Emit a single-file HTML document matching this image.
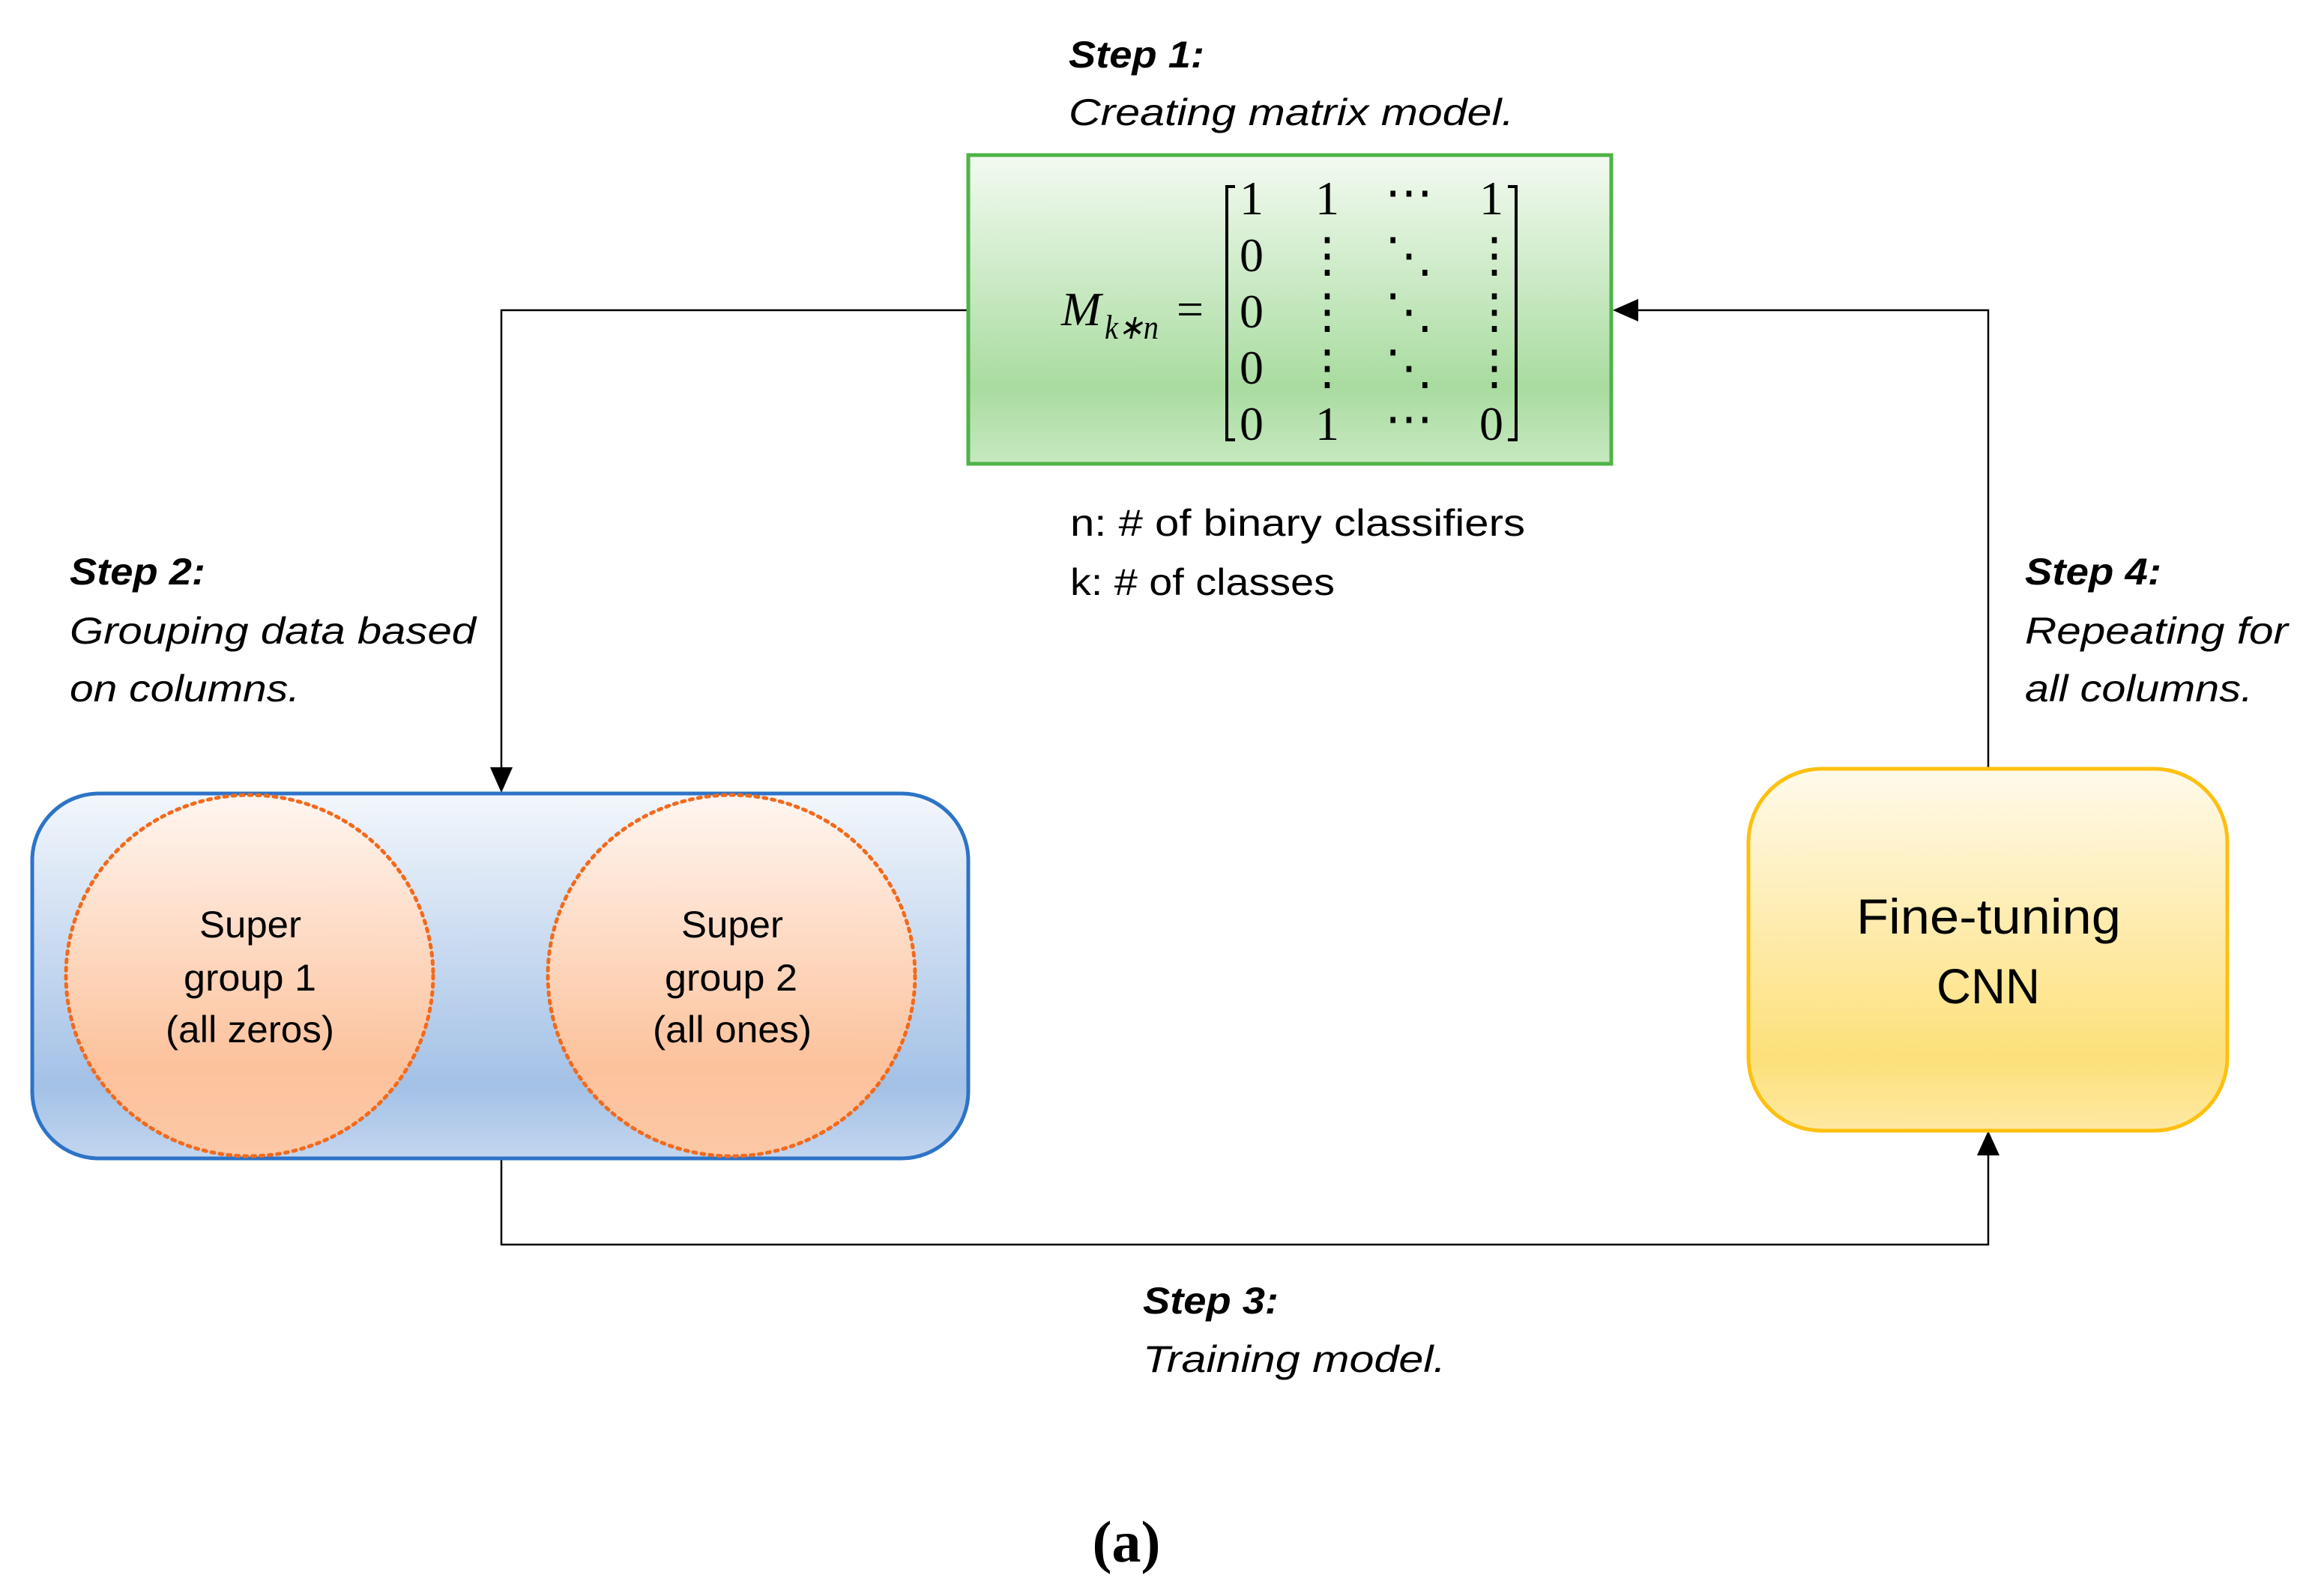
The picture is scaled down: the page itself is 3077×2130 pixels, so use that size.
<!DOCTYPE html>
<html><head><meta charset="utf-8"><style>html,body{margin:0;padding:0;background:#fff}svg{display:block}</style></head>
<body>
<svg width="3077" height="2130" viewBox="0 0 3077 2130" xmlns="http://www.w3.org/2000/svg" font-family="'Liberation Sans', sans-serif">
<defs>
<linearGradient id="g" x1="0" y1="0" x2="0" y2="1">
<stop offset="0" stop-color="#f3faf1"/><stop offset="0.75" stop-color="#a9dca0"/><stop offset="1" stop-color="#c7e8c0"/></linearGradient>
<linearGradient id="b" x1="0" y1="0" x2="0" y2="1">
<stop offset="0" stop-color="#f3f7fc"/><stop offset="0.8" stop-color="#a3c1e6"/><stop offset="1" stop-color="#c3d6ef"/></linearGradient>
<linearGradient id="o" x1="0" y1="0" x2="0" y2="1">
<stop offset="0" stop-color="#fff6f1"/><stop offset="0.75" stop-color="#fcc29c"/><stop offset="1" stop-color="#fcc8a6"/></linearGradient>
<linearGradient id="y" x1="0" y1="0" x2="0" y2="1">
<stop offset="0" stop-color="#fffaeb"/><stop offset="0.8" stop-color="#fde07a"/><stop offset="1" stop-color="#fee9a4"/></linearGradient>
</defs>
<g stroke="#000" stroke-width="2.5" fill="none">
<polyline points="1292,414 669,414 669,1030"/>
<polyline points="669,1546 669,1661 2653,1661 2653,1535"/>
<polyline points="2653,1026 2653,414 2178,414"/>
</g>
<polygon points="654,1024 684,1024 669,1058" fill="#000"/>
<polygon points="2638,1542 2668,1542 2653,1509" fill="#000"/>
<polygon points="2152,414 2186,399 2186,429" fill="#000"/>
<rect x="1292" y="207" width="858" height="412" fill="url(#g)" stroke="#4db445" stroke-width="5"/>
<rect x="43" y="1059" width="1249" height="487" rx="89" fill="url(#b)" stroke="#2d73c8" stroke-width="5"/>
<ellipse cx="333" cy="1302" rx="245" ry="241" fill="url(#o)" stroke="#f26a1c" stroke-width="5" stroke-dasharray="4 7" stroke-linecap="round"/>
<ellipse cx="976" cy="1302" rx="245" ry="241" fill="url(#o)" stroke="#f26a1c" stroke-width="5" stroke-dasharray="4 7" stroke-linecap="round"/>
<rect x="2333" y="1026" width="639" height="483" rx="98" fill="url(#y)" stroke="#fdc00f" stroke-width="5"/>
<g font-size="50" fill="#000">
<text x="1426" y="90" font-weight="bold" font-style="italic" textLength="181" lengthAdjust="spacingAndGlyphs">Step 1:</text>
<text x="1426" y="167" font-style="italic" textLength="594" lengthAdjust="spacingAndGlyphs">Creating matrix model.</text>
<text x="93" y="780" font-weight="bold" font-style="italic" textLength="181" lengthAdjust="spacingAndGlyphs">Step 2:</text>
<text x="93" y="859" font-style="italic" textLength="542" lengthAdjust="spacingAndGlyphs">Grouping data based</text>
<text x="93" y="936" font-style="italic" textLength="307" lengthAdjust="spacingAndGlyphs">on columns.</text>
<text x="2702" y="780" font-weight="bold" font-style="italic" textLength="182" lengthAdjust="spacingAndGlyphs">Step 4:</text>
<text x="2702" y="859" font-style="italic" textLength="351" lengthAdjust="spacingAndGlyphs">Repeating for</text>
<text x="2702" y="936" font-style="italic" textLength="304" lengthAdjust="spacingAndGlyphs">all columns.</text>
<text x="1525" y="1753" font-weight="bold" font-style="italic" textLength="181" lengthAdjust="spacingAndGlyphs">Step 3:</text>
<text x="1525" y="1831" font-style="italic" textLength="404" lengthAdjust="spacingAndGlyphs">Training model.</text>
<text x="1428" y="715" textLength="607" lengthAdjust="spacingAndGlyphs">n: # of binary classifiers</text>
<text x="1428" y="794" textLength="353" lengthAdjust="spacingAndGlyphs">k: # of classes</text>
<text x="266" y="1251" textLength="136" lengthAdjust="spacingAndGlyphs">Super</text>
<text x="245" y="1322" textLength="177" lengthAdjust="spacingAndGlyphs">group 1</text>
<text x="221" y="1391" textLength="225" lengthAdjust="spacingAndGlyphs">(all zeros)</text>
<text x="909" y="1251" textLength="136" lengthAdjust="spacingAndGlyphs">Super</text>
<text x="887" y="1322" textLength="177" lengthAdjust="spacingAndGlyphs">group 2</text>
<text x="871" y="1391" textLength="212" lengthAdjust="spacingAndGlyphs">(all ones)</text>
<text x="2477" y="1246" font-size="66" textLength="353" lengthAdjust="spacingAndGlyphs">Fine-tuning</text>
<text x="2584" y="1339" font-size="66" textLength="138" lengthAdjust="spacingAndGlyphs">CNN</text>
</g>
<g font-family="'Liberation Serif', serif" font-size="64" fill="#000" text-anchor="middle">
<text x="1416" y="434" font-style="italic" font-size="64" text-anchor="start">M</text>
<text x="1474" y="452" font-style="italic" font-size="46" text-anchor="start" textLength="72" lengthAdjust="spacingAndGlyphs">k∗n</text>
<text x="1588" y="434" font-size="64">=</text>
<text x="1670" y="286">1</text><text x="1771" y="286">1</text><text x="1880" y="278">⋯</text><text x="1990" y="286">1</text>
<text x="1670" y="362">0</text><text x="1771" y="362">⋮</text><text x="1880" y="362">⋱</text><text x="1994" y="362">⋮</text>
<text x="1670" y="437">0</text><text x="1771" y="437">⋮</text><text x="1880" y="437">⋱</text><text x="1994" y="437">⋮</text>
<text x="1670" y="512">0</text><text x="1771" y="512">⋮</text><text x="1880" y="512">⋱</text><text x="1994" y="512">⋮</text>
<text x="1670" y="587">0</text><text x="1771" y="587">1</text><text x="1880" y="580">⋯</text><text x="1990" y="587">0</text>
</g>
<g stroke="#000" stroke-width="4" fill="none">
<polyline points="1648,249 1637,249 1637,587 1648,587"/>
<polyline points="2012,249 2023,249 2023,587 2012,587"/>
</g>
<text x="1503" y="2084" font-family="'Liberation Serif', serif" font-size="78" font-weight="bold" text-anchor="middle">(a)</text>
</svg>
</body></html>
